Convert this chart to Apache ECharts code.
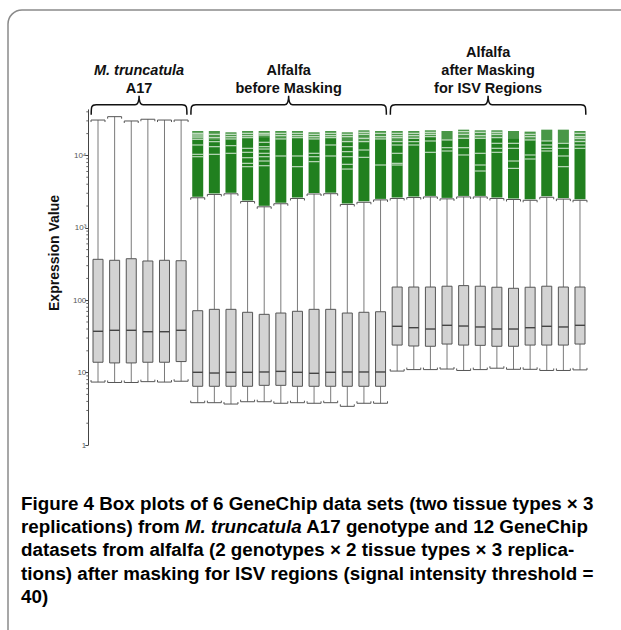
<!DOCTYPE html>
<html>
<head>
<meta charset="utf-8">
<script src="https://cdn.jsdelivr.net/npm/echarts@6/dist/echarts.min.js"></script>
<style>
  html, body { margin: 0; padding: 0; background: #fff; }
  #chart { width: 621px; height: 630px; }
</style>
</head>
<body>
<div id="chart"></div>
<script>
// 30 GeneChips: 6 M. truncatula A17, 12 alfalfa before masking, 12 alfalfa after masking
var samples = ['A17-1','A17-2','A17-3','A17-4','A17-5','A17-6',
  'Ms-1','Ms-2','Ms-3','Ms-4','Ms-5','Ms-6','Ms-7','Ms-8','Ms-9','Ms-10','Ms-11','Ms-12',
  'MsM-1','MsM-2','MsM-3','MsM-4','MsM-5','MsM-6','MsM-7','MsM-8','MsM-9','MsM-10','MsM-11','MsM-12'];

var whiskerLow = [7.4,7.3,7.3,7.5,7.4,7.6,
  3.84,3.84,3.68,3.96,3.96,3.77,3.84,3.77,3.84,3.42,3.77,3.77,
  10.5,11.0,11.0,11.2,10.7,11.0,11.5,11.1,11.1,10.7,10.7,10.9];
var q1 = [13.9,13.6,13.6,13.9,13.9,14.2,
  6.47,6.47,6.47,6.47,6.67,6.67,6.47,6.47,6.47,6.47,6.47,6.47,
  24.0,23.3,23.1,24.8,24.0,23.8,23.1,23.1,24.0,24.0,24.0,24.8];
var median = [37.2,38.4,38.4,36.7,36.7,38.4,
  10.1,9.87,10.1,10.1,10.2,10.4,10.1,9.78,10.1,10.2,10.2,10.2,
  43.6,41.7,40.0,45.0,44.0,42.7,40.0,40.0,41.7,43.6,42.7,45.0];
var q3 = [367,356,374,348,356,351,
  71.6,74.8,74.8,68.1,63.8,66.5,70.3,74.8,74.8,66.5,68.1,69.3,
  152,152,152,156,159,156,151,146,151,156,152,152];
var whiskerHigh = [30800,34300,29900,31600,30800,30800,
  2600,2890,2950,2310,1950,2150,2540,2930,2960,2100,2250,2430,
  2540,2620,2670,2510,2670,2670,2540,2460,2400,2640,2490,2400];

// outliers above the upper whisker (alfalfa chips only)
var outlierMax = [null,null,null,null,null,null,
  21730,21730,20830,21730,21730,21730,21730,20830,21730,20830,22200,21730,
  21730,21730,22200,21730,22650,22200,22200,21730,21280,22650,22650,21730];
var sparseFrom = [null,null,null,null,null,null,
  16900,16300,16900,17600,17600,16900,17600,16900,17600,15500,15500,16900,
  15500,17200,18100,16300,17200,17200,17600,16900,16300,15800,15000,15500];
var outlierGaps = [[],[],[],[],[],[],
  [20180,19140,17950,16670,13930,10350,9600],
  [19550,17580,15490,13210,10350],
  [19550,18150,16860,13640,10690],
  [20180,18740,17580,12530,11030,9300,7770,6990],
  [20180,19140,15170,13210,12250,10690,9600,8370,7210],
  [20180,18740,16860,9820],
  [20180,18740,17580,9820,6990],
  [19550,18150,16860,10690,9600,8200],
  [20180,18740,17580,13930,9820],
  [19550,18150,15490,13210,11270,9600,7530,6480],
  [20830,19550,17220,15490,11880,9400],
  [20180,18150,16860,7370],
  [20180,18740,17580,15490,13930,10690,7770,7370],
  [20180,18740,17220,15490,13930],
  [20830,19550,18150,15820,11030],
  [16330,12790,11510],
  [21280,19550,17220,12790,10140],
  [20830,18740,17220,10690,7370,6090],
  [20830,19550,17580,14690,12530,11030],
  [14690,12530,8370,6620],
  [19550,18150,16330,10140,8920],
  [15820,13930,12530,11510],
  [14690,12530,9820,6990],
  [20180,18150,17220,15490,13930,12530]];

var groupLines = [['M. truncatula','A17'], ['Alfalfa','before Masking'], ['Alfalfa','after Masking','for ISV Regions']];
var groupStart = [0, 6, 18];
var groupEnd = [5, 17, 29];

var yTicks = [1, 10, 100, 1000, 10000];
var yTickLabels = ['1', '10', '100', '10³', '10⁴'];

var chart = echarts.init(document.getElementById('chart'), null, { renderer: 'svg' });

var boxData = samples.map(function (s, i) {
  return [i, whiskerLow[i], q1[i], median[i], q3[i], whiskerHigh[i]];
});
var outData = [];
samples.forEach(function (s, i) {
  if (outlierMax[i] != null) outData.push([i, whiskerHigh[i], outlierMax[i], sparseFrom[i]]);
});
var minorTicks = [];
for (var d = 1; d <= 10000; d *= 10) {
  for (var m = 2; m <= 9; m++) {
    if (m * d < 42000) minorTicks.push([0, m * d]);
  }
}
var braceData = groupStart.map(function (s, k) { return [s, 1, groupEnd[k], k]; });

function renderBox(params, api) {
  var x = api.value(0);
  var band = api.size([1, 0])[0];
  var pLow = api.coord([x, api.value(1)]);
  var pQ1 = api.coord([x, api.value(2)]);
  var pMed = api.coord([x, api.value(3)]);
  var pQ3 = api.coord([x, api.value(4)]);
  var pHigh = api.coord([x, api.value(5)]);
  var cx = pLow[0];
  var bw = 10, cw = band * 0.84;
  var wStyle = { stroke: '#7a7a7a', lineWidth: 1 };
  var cStyle = { stroke: '#555', lineWidth: 1, fill: null };
  return {
    type: 'group',
    children: [
      { type: 'line', shape: { x1: cx, y1: pQ3[1], x2: cx, y2: pHigh[1] }, style: wStyle },
      { type: 'line', shape: { x1: cx, y1: pQ1[1], x2: cx, y2: pLow[1] }, style: wStyle },
      { type: 'polyline', shape: { points: [[cx - cw / 2, pHigh[1] + 2], [cx - cw / 2, pHigh[1]], [cx + cw / 2, pHigh[1]], [cx + cw / 2, pHigh[1] + 2]] }, style: cStyle },
      { type: 'polyline', shape: { points: [[cx - cw / 2, pLow[1] - 2], [cx - cw / 2, pLow[1]], [cx + cw / 2, pLow[1]], [cx + cw / 2, pLow[1] - 2]] }, style: cStyle },
      { type: 'rect', shape: { x: cx - bw / 2, y: pQ3[1], width: bw, height: pQ1[1] - pQ3[1] }, style: { fill: '#d3d3d3', stroke: '#555', lineWidth: 1 } },
      { type: 'line', shape: { x1: cx - bw / 2, y1: pMed[1], x2: cx + bw / 2, y2: pMed[1] }, style: { stroke: '#444', lineWidth: 1.4 } }
    ]
  };
}

function renderOutliers(params, api) {
  var x = api.value(0);
  var pLo = api.coord([x, api.value(1)]);
  var pHi = api.coord([x, api.value(2)]);
  var pSp = api.coord([x, api.value(3)]);
  var w = 11, cx = pLo[0];
  var children = [
    { type: 'rect', shape: { x: cx - w / 2, y: pHi[1], width: w, height: pLo[1] - pHi[1] - 1 }, style: { fill: '#21801f' } },
    { type: 'rect', shape: { x: cx - w / 2, y: pHi[1], width: w, height: pSp[1] - pHi[1] }, style: { fill: 'rgba(255,255,255,0.18)' } }
  ];
  outlierGaps[x].forEach(function (g) {
    var p = api.coord([x, g]);
    children.push({ type: 'rect', shape: { x: cx - w / 2, y: p[1] - 0.6, width: w, height: 1.2 }, style: { fill: 'rgba(255,255,255,0.7)' } });
  });
  return { type: 'group', children: children };
}

function renderMinor(params, api) {
  var p = api.coord([0, api.value(1)]);
  var ax = params.coordSys.x - 1.4;
  return { type: 'line', shape: { x1: ax - 2, y1: p[1], x2: ax, y2: p[1] }, style: { stroke: '#666', lineWidth: 1 } };
}

function renderBrace(params, api) {
  var band = api.size([1, 0])[0];
  var k = api.value(3);
  var x0 = api.coord([api.value(0), 1])[0] - band / 2 + 1.5;
  var x1 = api.coord([api.value(2), 1])[0] + band / 2 - 2.5;
  var xm = (x0 + x1) / 2;
  var top = params.coordSys.y;
  var yl = top - 5, ye = top + 5, yc = top - 14;
  var path = 'M' + x0 + ',' + ye + ' C' + x0 + ',' + (yl + 2) + ' ' + x0 + ',' + yl + ' ' + (x0 + 5) + ',' + yl +
    ' L' + (xm - 4) + ',' + yl + ' Q' + xm + ',' + yl + ' ' + xm + ',' + yc +
    ' Q' + xm + ',' + yl + ' ' + (xm + 4) + ',' + yl + ' L' + (x1 - 5) + ',' + yl +
    ' C' + x1 + ',' + yl + ' ' + x1 + ',' + (yl + 2) + ' ' + x1 + ',' + ye;
  var children = [{ type: 'path', shape: { pathData: path }, style: { fill: null, stroke: '#111', lineWidth: 1.5 } }];
  var lines = groupLines[k];
  lines.forEach(function (t, j) {
    var italic = (k === 0 && j === 0) ? 'italic ' : '';
    children.push({
      type: 'text', x: xm, y: top - 22 - (lines.length - 1 - j) * 18,
      style: { text: t, fill: '#111', font: italic + 'bold 14.5px "Liberation Sans", Arial, sans-serif', align: 'center', verticalAlign: 'middle' }
    });
  });
  return { type: 'group', children: children };
}

var capFont = '"Liberation Sans", Arial, sans-serif';
var captionRich = {
  b: { fontFamily: capFont, fontWeight: 700, fontSize: 18.8, lineHeight: 21, color: '#231f20' },
  n: { fontFamily: capFont, fontWeight: 700, fontSize: 18.8, lineHeight: 21, color: '#2b2728' },
  i: { fontFamily: capFont, fontWeight: 700, fontStyle: 'italic', fontSize: 18.8, lineHeight: 21, color: '#2b2728' }
};
var captionLines = [
  '{b|Figure 4}{n| Box plots of 6 GeneChip data sets (two tissue types × 3}',
  '{n|replications) from }{i|M. truncatula}{n| A17 genotype and 12 GeneChip}',
  '{n|datasets from alfalfa (2 genotypes × 2 tissue types × 3 replica-}',
  '{n|tions) after masking for ISV regions (signal intensity threshold =}',
  '{n|40)}'
];
var captionY = [503, 526.4, 549.8, 573.2, 596.6];

var graphics = [
  { type: 'rect', shape: { x: 8, y: 10, width: 700, height: 700, r: 14 }, style: { fill: 'none', stroke: '#8a8a8a', lineWidth: 1.5 }, silent: true },
  { type: 'text', x: 54, y: 253, rotation: Math.PI / 2, style: { text: 'Expression Value', fill: '#111', font: 'bold 14px "Liberation Sans", Arial, sans-serif', align: 'center', verticalAlign: 'middle' } }
];
captionLines.forEach(function (t, j) {
  graphics.push({ type: 'text', x: 21, y: captionY[j], style: { text: t, rich: captionRich, align: 'left', verticalAlign: 'middle' } });
});

chart.setOption({
  animation: false,
  backgroundColor: '#fff',
  grid: { left: 89.7, top: 109.8, bottom: 185, width: 498.6 },
  xAxis: { type: 'category', data: samples, show: false },
  yAxis: {
    type: 'log', logBase: 10, min: 1, max: 42658, offset: 1.4,
    axisLine: { show: true, lineStyle: { color: '#444', width: 1 } },
    axisTick: { show: true, length: 3, customValues: yTicks, lineStyle: { color: '#444' } },
    axisLabel: {
      customValues: yTicks, fontSize: 8, color: '#555', margin: 2,
      fontFamily: '"Liberation Sans", Arial, sans-serif',
      formatter: function (v) { var i = yTicks.indexOf(v); return i >= 0 ? yTickLabels[i] : ''; }
    },
    splitLine: { show: false }
  },
  graphic: graphics,
  series: [
    { type: 'custom', name: 'minor ticks', data: minorTicks, renderItem: renderMinor, silent: true, clip: false },
    { type: 'custom', name: 'outliers', data: outData, renderItem: renderOutliers, silent: true, z: 2 },
    { type: 'custom', name: 'boxes', data: boxData, renderItem: renderBox, silent: true, z: 3 },
    { type: 'custom', name: 'groups', data: braceData, renderItem: renderBrace, silent: true, clip: false, z: 4 }
  ]
});
</script>
</body>
</html>
